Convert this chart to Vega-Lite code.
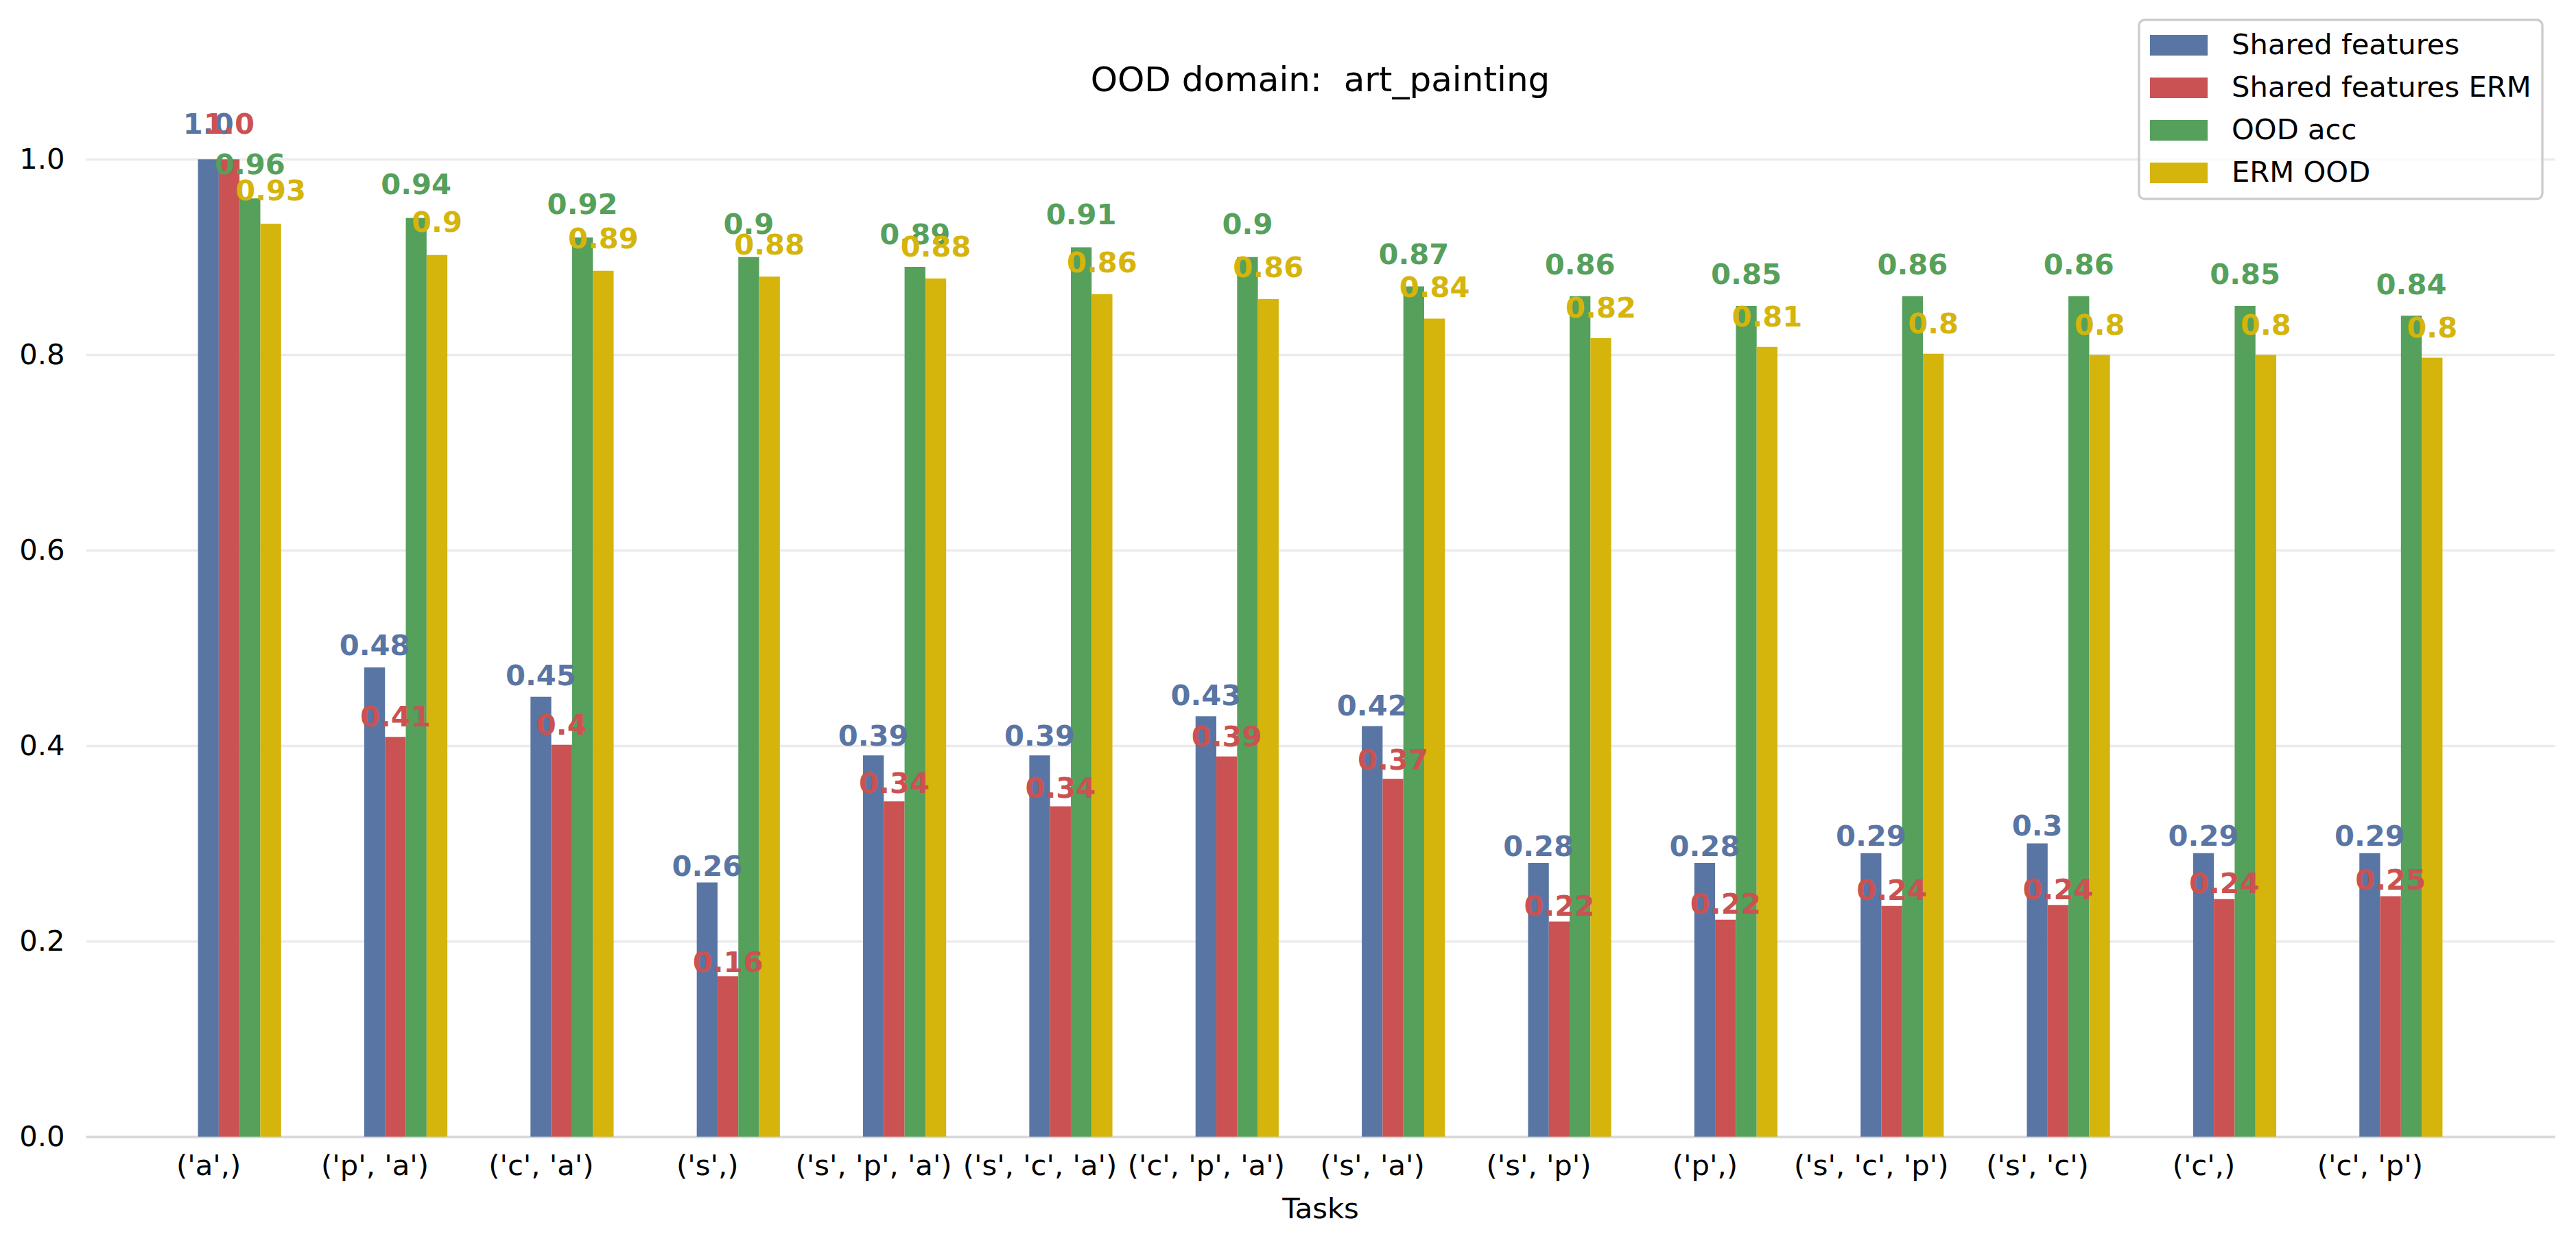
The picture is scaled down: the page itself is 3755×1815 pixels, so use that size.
{
  "$schema": "https://vega.github.io/schema/vega-lite/v6.json",
  "width": 3599,
  "height": 1496,
  "autosize": {"type": "none"},
  "padding": {"left": 125, "top": 161, "right": 31, "bottom": 158},
  "background": "white",
  "title": {
    "text": "OOD domain:\u00a0 art_painting",
    "font": "DejaVu Sans",
    "fontSize": 50,
    "fontWeight": "normal",
    "color": "black",
    "anchor": "middle",
    "frame": "group",
    "baseline": "alphabetic",
    "offset": 26,
    "dy": 182
  },
  "config": {
    "font": "DejaVu Sans",
    "view": {"stroke": null}
  },
  "data": {
    "values": [
      {"task": "('a',)", "series": "Shared features", "value": 1.0, "label": "1.0"},
      {"task": "('a',)", "series": "Shared features ERM", "value": 1.0, "label": "1.0"},
      {"task": "('a',)", "series": "OOD acc", "value": 0.96, "label": "0.96"},
      {"task": "('a',)", "series": "ERM OOD", "value": 0.934, "label": "0.93"},
      {"task": "('p', 'a')", "series": "Shared features", "value": 0.48, "label": "0.48"},
      {"task": "('p', 'a')", "series": "Shared features ERM", "value": 0.409, "label": "0.41"},
      {"task": "('p', 'a')", "series": "OOD acc", "value": 0.94, "label": "0.94"},
      {"task": "('p', 'a')", "series": "ERM OOD", "value": 0.902, "label": "0.9"},
      {"task": "('c', 'a')", "series": "Shared features", "value": 0.45, "label": "0.45"},
      {"task": "('c', 'a')", "series": "Shared features ERM", "value": 0.401, "label": "0.4"},
      {"task": "('c', 'a')", "series": "OOD acc", "value": 0.92, "label": "0.92"},
      {"task": "('c', 'a')", "series": "ERM OOD", "value": 0.886, "label": "0.89"},
      {"task": "('s',)", "series": "Shared features", "value": 0.26, "label": "0.26"},
      {"task": "('s',)", "series": "Shared features ERM", "value": 0.164, "label": "0.16"},
      {"task": "('s',)", "series": "OOD acc", "value": 0.90, "label": "0.9"},
      {"task": "('s',)", "series": "ERM OOD", "value": 0.880, "label": "0.88"},
      {"task": "('s', 'p', 'a')", "series": "Shared features", "value": 0.39, "label": "0.39"},
      {"task": "('s', 'p', 'a')", "series": "Shared features ERM", "value": 0.343, "label": "0.34"},
      {"task": "('s', 'p', 'a')", "series": "OOD acc", "value": 0.89, "label": "0.89"},
      {"task": "('s', 'p', 'a')", "series": "ERM OOD", "value": 0.878, "label": "0.88"},
      {"task": "('s', 'c', 'a')", "series": "Shared features", "value": 0.39, "label": "0.39"},
      {"task": "('s', 'c', 'a')", "series": "Shared features ERM", "value": 0.338, "label": "0.34"},
      {"task": "('s', 'c', 'a')", "series": "OOD acc", "value": 0.91, "label": "0.91"},
      {"task": "('s', 'c', 'a')", "series": "ERM OOD", "value": 0.862, "label": "0.86"},
      {"task": "('c', 'p', 'a')", "series": "Shared features", "value": 0.43, "label": "0.43"},
      {"task": "('c', 'p', 'a')", "series": "Shared features ERM", "value": 0.389, "label": "0.39"},
      {"task": "('c', 'p', 'a')", "series": "OOD acc", "value": 0.90, "label": "0.9"},
      {"task": "('c', 'p', 'a')", "series": "ERM OOD", "value": 0.857, "label": "0.86"},
      {"task": "('s', 'a')", "series": "Shared features", "value": 0.42, "label": "0.42"},
      {"task": "('s', 'a')", "series": "Shared features ERM", "value": 0.366, "label": "0.37"},
      {"task": "('s', 'a')", "series": "OOD acc", "value": 0.87, "label": "0.87"},
      {"task": "('s', 'a')", "series": "ERM OOD", "value": 0.837, "label": "0.84"},
      {"task": "('s', 'p')", "series": "Shared features", "value": 0.28, "label": "0.28"},
      {"task": "('s', 'p')", "series": "Shared features ERM", "value": 0.220, "label": "0.22"},
      {"task": "('s', 'p')", "series": "OOD acc", "value": 0.86, "label": "0.86"},
      {"task": "('s', 'p')", "series": "ERM OOD", "value": 0.817, "label": "0.82"},
      {"task": "('p',)", "series": "Shared features", "value": 0.28, "label": "0.28"},
      {"task": "('p',)", "series": "Shared features ERM", "value": 0.222, "label": "0.22"},
      {"task": "('p',)", "series": "OOD acc", "value": 0.85, "label": "0.85"},
      {"task": "('p',)", "series": "ERM OOD", "value": 0.808, "label": "0.81"},
      {"task": "('s', 'c', 'p')", "series": "Shared features", "value": 0.29, "label": "0.29"},
      {"task": "('s', 'c', 'p')", "series": "Shared features ERM", "value": 0.236, "label": "0.24"},
      {"task": "('s', 'c', 'p')", "series": "OOD acc", "value": 0.86, "label": "0.86"},
      {"task": "('s', 'c', 'p')", "series": "ERM OOD", "value": 0.801, "label": "0.8"},
      {"task": "('s', 'c')", "series": "Shared features", "value": 0.30, "label": "0.3"},
      {"task": "('s', 'c')", "series": "Shared features ERM", "value": 0.237, "label": "0.24"},
      {"task": "('s', 'c')", "series": "OOD acc", "value": 0.86, "label": "0.86"},
      {"task": "('s', 'c')", "series": "ERM OOD", "value": 0.800, "label": "0.8"},
      {"task": "('c',)", "series": "Shared features", "value": 0.29, "label": "0.29"},
      {"task": "('c',)", "series": "Shared features ERM", "value": 0.243, "label": "0.24"},
      {"task": "('c',)", "series": "OOD acc", "value": 0.85, "label": "0.85"},
      {"task": "('c',)", "series": "ERM OOD", "value": 0.800, "label": "0.8"},
      {"task": "('c', 'p')", "series": "Shared features", "value": 0.29, "label": "0.29"},
      {"task": "('c', 'p')", "series": "Shared features ERM", "value": 0.246, "label": "0.25"},
      {"task": "('c', 'p')", "series": "OOD acc", "value": 0.84, "label": "0.84"},
      {"task": "('c', 'p')", "series": "ERM OOD", "value": 0.797, "label": "0.8"}
    ]
  },
  "layer": [
    {
      "mark": {"type": "bar"},
      "encoding": {
        "x": {
          "field": "task",
          "type": "nominal",
          "sort": null,
          "scale": {"paddingInner": 0.5, "paddingOuter": 0.675},
          "axis": {
            "title": "Tasks",
            "titleFontSize": 41.7,
            "titleFontWeight": "normal",
            "titleColor": "black",
            "titlePadding": 22,
            "labelAngle": 0,
            "labelFontSize": 41.7,
            "labelColor": "black",
            "labelPadding": 22,
            "labelLimit": 0,
            "labelOverlap": false,
            "labelOffset": -45,
            "ticks": false,
            "tickSize": 0,
            "domain": true,
            "domainColor": "#DADADA",
            "domainWidth": 3.3,
            "grid": false
          }
        },
        "xOffset": {
          "field": "series",
          "type": "nominal",
          "scale": {
            "domain": ["Shared features", "Shared features ERM", "OOD acc", "ERM OOD"],
            "paddingInner": 0,
            "paddingOuter": 0
          }
        },
        "y": {
          "field": "value",
          "type": "quantitative",
          "scale": {"domain": [0, 1.05], "nice": false, "zero": true},
          "axis": {
            "title": null,
            "values": [0, 0.2, 0.4, 0.6, 0.8, 1.0],
            "format": ".1f",
            "labelFontSize": 41.7,
            "labelColor": "black",
            "labelPadding": 31,
            "ticks": false,
            "tickSize": 0,
            "domain": false,
            "grid": true,
            "gridColor": "#EBEBEB",
            "gridWidth": 3.3
          }
        },
        "color": {
          "field": "series",
          "type": "nominal",
          "scale": {
            "domain": ["Shared features", "Shared features ERM", "OOD acc", "ERM OOD"],
            "range": ["#5975A4", "#CB5252", "#55A05B", "#D5B40C"]
          },
          "legend": {
            "title": null,
            "orient": "none",
            "legendX": 2993,
            "legendY": -132,
            "labelFontSize": 41.7,
            "labelColor": "black",
            "labelLimit": 0,
            "labelOffset": 77,
            "symbolType": "M-1,-0.714H3V0.714H-1Z",
            "symbolSize": 1764,
            "symbolStrokeWidth": 0,
            "rowPadding": 19,
            "padding": 16,
            "strokeColor": "#CCCCCC",
            "fillColor": "rgba(255,255,255,0.8)",
            "cornerRadius": 8,
            "encode": {"legend": {"update": {"strokeWidth": {"value": 3.3}}}}
          }
        }
      }
    },
    {
      "mark": {"type": "text", "baseline": "alphabetic", "align": "center", "fontWeight": "bold", "fontSize": 41.7, "font": "DejaVu Sans"},
      "encoding": {
        "x": {"field": "task", "type": "nominal", "sort": null},
        "xOffset": {"field": "series", "type": "nominal"},
        "y": {
          "field": "value",
          "type": "quantitative",
          "scale": {"domain": [0, 1.0234], "nice": false, "zero": true},
          "axis": null
        },
        "text": {"field": "label"},
        "color": {"field": "series", "type": "nominal", "legend": null}
      }
    }
  ],
  "resolve": {"scale": {"y": "independent"}}
}
